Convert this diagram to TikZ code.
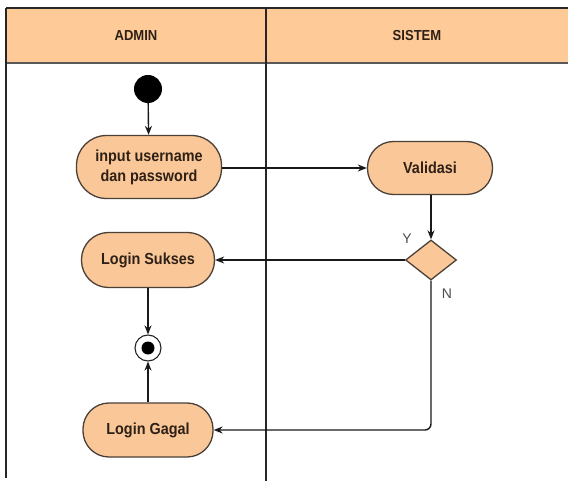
\documentclass[tikz,border=0pt]{standalone}
\usepackage{fontspec}
\setmainfont{Liberation Sans}
\newfontfamily\narrowsans[FakeStretch=0.9]{Liberation Sans}
\usetikzlibrary{shapes.geometric,arrows.meta}
\definecolor{peach}{HTML}{FAC898}
\definecolor{headpeach}{HTML}{FDCA98}
\definecolor{inkbrown}{HTML}{2E2016}
\definecolor{rimgray}{HTML}{4A4038}
\begin{document}
\begin{tikzpicture}[x=1pt,y=-1pt,
  lanerule/.style={draw=black!85,line width=1.1pt},
  act/.style={draw=rimgray,fill=peach,line width=1.3pt,text=inkbrown,
    font=\narrowsans\fontsize{16}{20}\selectfont\bfseries,align=center,inner sep=0pt},
  decision/.style={diamond,draw=rimgray,fill=peach,line width=1.3pt,inner sep=0pt,
    minimum width=51pt,minimum height=40pt},
  flow/.style={draw=black!90,line width=1.4pt,-{Stealth[length=9pt,width=7pt]}},
  guard/.style={text=black!70,font=\fontsize{14}{16}\selectfont},
  lanehead/.style={text=inkbrown,font=\narrowsans\fontsize{14.5}{16}\selectfont\bfseries}]
\useasboundingbox (0,0) rectangle (568,481);

% swimlane frame
\fill[headpeach] (6,8) rectangle (568,63);
\draw[lanerule] (6,8) -- (568,8);
\draw[draw=black!65,line width=1.3pt] (6,63) -- (568,63);
\draw[lanerule] (6,8) -- (6,478);
\draw[lanerule] (266,8) -- (266,481);
\node[lanehead] (hadmin) at (136,36) {ADMIN};
\node[lanehead] (hsistem) at (417,36) {SISTEM};

% activity nodes
\node[circle,fill=black,minimum size=28pt,inner sep=0pt] (start) at (148,89) {};
\node[act,minimum width=145pt,minimum height=63pt,rounded corners=30pt] (input) at (149,167) {input username\\dan password};
\node[act,minimum width=125pt,minimum height=53pt,rounded corners=26pt] (valid) at (430,168) {Validasi};
\node[decision] (dec) at (431,260) {};
\node[act,minimum width=133pt,minimum height=55pt,rounded corners=27pt] (sukses) at (148,260) {Login Sukses};
\node[circle,draw=black!85,fill=white,line width=1.1pt,minimum size=26pt,inner sep=0pt] (final) at (148,348) {};
\node[circle,fill=black,minimum size=13pt,inner sep=0pt] (finaldot) at (final) {};
\node[act,minimum width=130pt,minimum height=54pt,rounded corners=26pt] (gagal) at (148,430) {Login Gagal};

% guards
\node[guard] (gy) at (407,239) {Y};
\node[guard] (gn) at (447,294) {N};

% connectors
\draw[flow] (start) -- (input);
\draw[flow] (input.east |- valid.west) -- (valid);
\draw[flow] (valid.south -| dec.north) -- (dec.north);
\draw[flow] (dec.west) -- (sukses.east);
\draw[flow] (sukses) -- (final);
\draw[flow] (gagal) -- (final);
\draw[flow,rounded corners=6pt] (dec.south) -- (dec.south |- gagal.east) -- (gagal.east);
\end{tikzpicture}
\end{document}
